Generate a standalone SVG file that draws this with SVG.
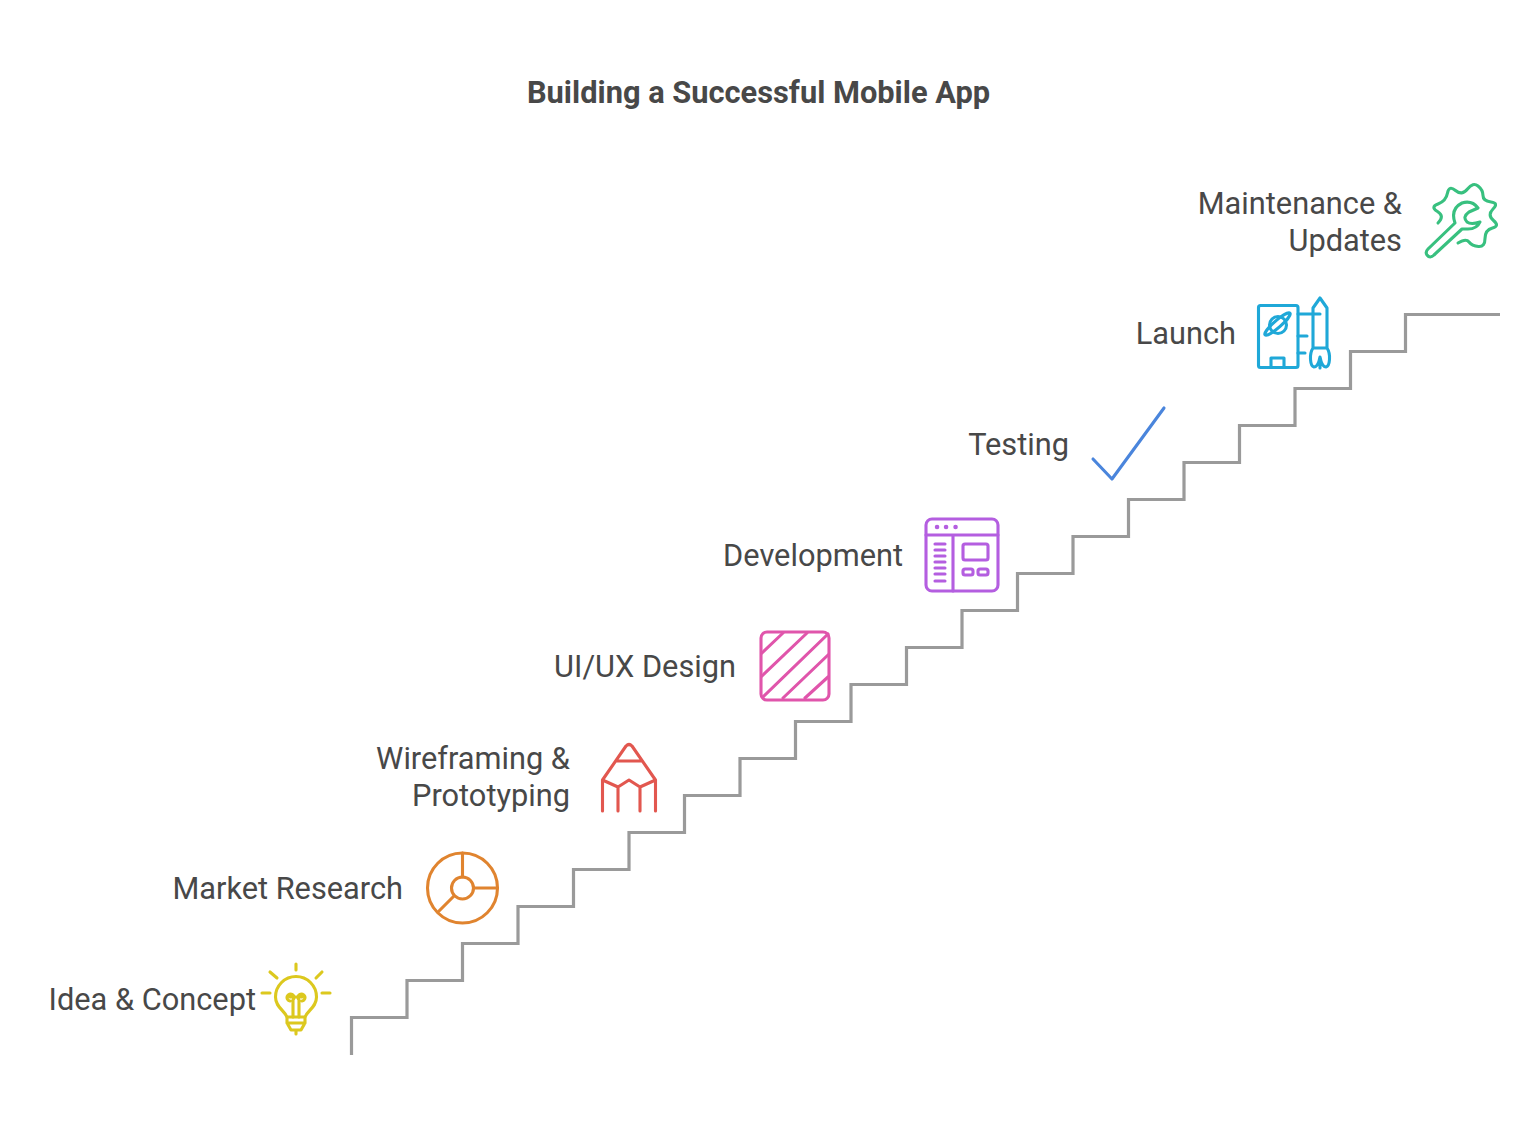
<svg xmlns="http://www.w3.org/2000/svg" width="1536" height="1129" viewBox="0 0 1536 1129">
<style>
text{font-family:Roboto,"Liberation Sans",sans-serif;font-size:30.75px;fill:#484848;text-anchor:end}
.t{font-weight:700;text-anchor:middle;font-size:30.8px}
.i{fill:none;stroke-width:3.1;stroke-linecap:round;stroke-linejoin:round}
</style>
<rect width="1536" height="1129" fill="#fff"/>
<text class="t" x="758.500" y="103">Building a Successful Mobile App</text>
<g id="connectors"><path id="stairs" fill="none" stroke="#9a9a9a" stroke-width="3.2" d="M351.500 1055V1017.500H407V980.500H462.500V943.500H518V906.500H573.500V869.500H629V832.500H684.500V795.500H740V758.500H795.500V721.500H851V684.500H906.500V647.500H962V610.500H1017.500V573.500H1073V536.500H1128.500V499.500H1184V462.500H1239.500V425.500H1295V388.500H1350.500V351.500H1405.500V314.500H1500"/></g>
<g id="node-idea"><text x="256" y="1010">Idea &amp; Concept</text>
<g class="i" stroke="#dcc81e"><path d="M296 964V970M270 972L277 978M322 972L316 978M262 993H270M322 993H330"/><path d="M287 1017C284 1010 275.500 1007 275.500 997A20.500 20.500 0 0 1 316.500 997C316.500 1007 308 1010 305 1017Z"/><path d="M293 1017V1000M299 1017V1000M293 1000A3.500 3.500 0 1 0 290 1001M299 1000A3.500 3.500 0 1 1 302 1001M290 997H302M287 1017V1023H305V1017M287 1023L291 1030H301L305 1023M296 1030V1034"/></g></g>
<g id="node-market"><text x="403" y="899">Market Research</text>
<g class="i" stroke="#e0842f"><circle cx="462.500" cy="888" r="35"/><circle cx="462.500" cy="888" r="11"/><path d="M462.500 853V877M473.500 888H497M454 896L439 911"/></g></g>
<g id="node-wire"><text x="570" y="769">Wireframing &amp;</text><text x="570" y="806">Prototyping</text>
<g class="i" stroke="#e2574f"><path d="M602.500 811V780L626 746Q629 743 632 746L655.500 780V811M616 761H642M602.500 780L618 787L629 780L640 787L655.500 780M618 787V811M640 787V811"/></g></g>
<g id="node-uiux"><text x="736" y="677">UI/UX Design</text>
<g class="i" stroke="#e055ab"><rect x="761" y="632" width="68" height="68" rx="6"/><path d="M762 653L783 633M762 676L807 633M763 697L828 634M783 698L828 655M805 698L828 677"/></g></g>
<g id="node-dev"><text x="903" y="566">Development</text>
<g class="i" stroke="#b45ee0"><rect x="926" y="519" width="72" height="72" rx="6"/><path d="M926 535H998M953 535V591M935 544H945M935 550H945M935 556H945M935 562H945M935 568H945M935 574H945M935 581H945"/><rect x="963" y="544" width="25" height="16" rx="2"/><rect x="963" y="569" width="10" height="6" rx="2"/><rect x="978" y="569" width="10" height="6" rx="2"/><path stroke-width="4.500" d="M937 527H937.100M946 527H946.100M955.500 527H955.600"/></g></g>
<g id="node-testing"><text x="1069" y="455">Testing</text>
<path class="i" stroke="#4a85dc" d="M1093 459L1112 479L1164 408"/></g>
<g id="node-launch"><text x="1236" y="344">Launch</text>
<g class="i" stroke="#1fa8d8"><rect x="1258.500" y="305.500" width="39.500" height="62" rx="2"/><path d="M1271 367V358H1284V367M1298 314H1320M1298 336H1307M1298 353H1305"/><circle cx="1278" cy="325" r="8.500"/><ellipse cx="1277.500" cy="324" rx="16.500" ry="3.500" transform="rotate(-41 1277.500 324)"/><path d="M1313 348V308L1320 298L1327 308V348ZM1313 348C1309 354 1310 366 1314 367C1317 367 1319 362 1320 357C1321 362 1323 367 1326 367C1330 366 1331 354 1327 348M1320 357V368"/></g></g>
<g id="node-maint"><text x="1402" y="214">Maintenance &amp;</text><text x="1402" y="251">Updates</text>
<g class="i" stroke="#38c07f"><path d="M1438 223Q1445 216 1437.500 211.500Q1430 207 1438 204Q1446 201 1447.500 193Q1449 185 1455.500 190.500Q1462 196 1467.500 189Q1473 182 1478 186Q1483 190 1483 195.500Q1483 201 1491 202Q1499 203 1493 209Q1487 215 1493.500 220.500Q1500 226 1492.500 228Q1485 230 1485 238.500Q1485 247 1478.500 246.500Q1472 246 1469 242Q1466 238 1458 243"/><path d="M1455 223Q1450 209 1462 203Q1472 200 1478 208L1469 212Q1462 217 1467 222Q1471 225 1480 222Q1477 229 1468 229H1462L1434 255Q1430 259 1427 255Q1425 252 1428 249Z"/></g></g>
</svg>
